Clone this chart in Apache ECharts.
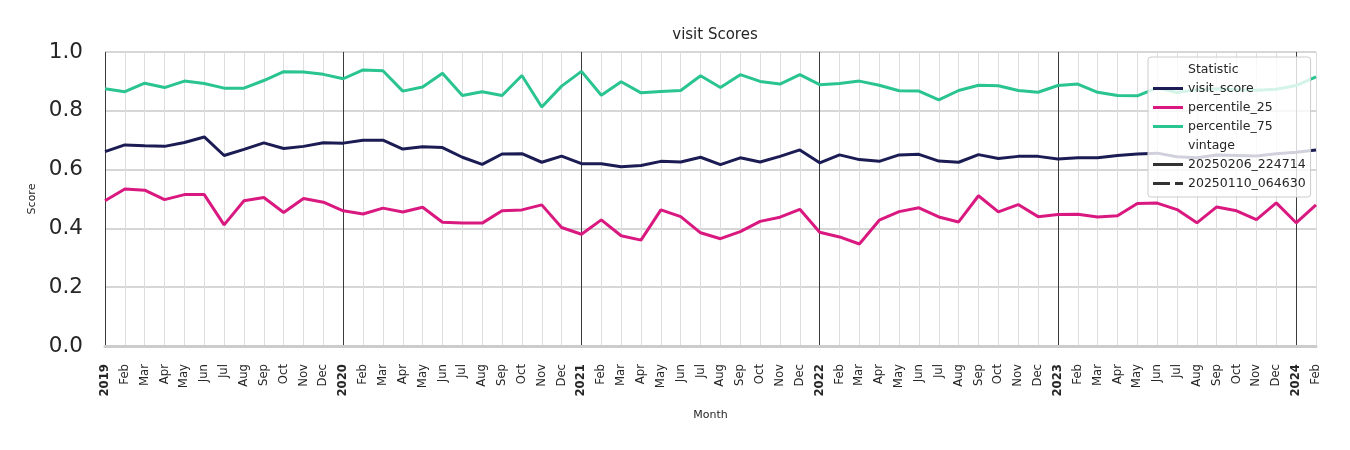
<!DOCTYPE html>
<html>
<head>
<meta charset="utf-8">
<script src="https://cdn.jsdelivr.net/npm/echarts@6/dist/echarts.min.js"></script>
<style>
html,body{margin:0;padding:0;background:#fff;}
#chart{width:1350px;height:450px;}
</style>
</head>
<body>
<div id="chart"></div>
<script>
const categories = [
 '2019-01','2019-02','2019-03','2019-04','2019-05','2019-06','2019-07','2019-08','2019-09','2019-10','2019-11','2019-12',
 '2020-01','2020-02','2020-03','2020-04','2020-05','2020-06','2020-07','2020-08','2020-09','2020-10','2020-11','2020-12',
 '2021-01','2021-02','2021-03','2021-04','2021-05','2021-06','2021-07','2021-08','2021-09','2021-10','2021-11','2021-12',
 '2022-01','2022-02','2022-03','2022-04','2022-05','2022-06','2022-07','2022-08','2022-09','2022-10','2022-11','2022-12',
 '2023-01','2023-02','2023-03','2023-04','2023-05','2023-06','2023-07','2023-08','2023-09','2023-10','2023-11','2023-12',
 '2024-01','2024-02'
];
const monthNames = ['Jan','Feb','Mar','Apr','May','Jun','Jul','Aug','Sep','Oct','Nov','Dec'];
const yTicks = [0.0, 0.2, 0.4, 0.6, 0.8, 1.0];

const visitScore = [
 0.661,0.684,0.681,0.679,0.692,0.711,0.648,0.669,0.691,0.672,0.679,0.691,
 0.690,0.700,0.700,0.670,0.678,0.675,0.642,0.618,0.653,0.654,0.625,0.646,
 0.620,0.620,0.610,0.614,0.628,0.626,0.642,0.617,0.640,0.626,0.645,0.667,
 0.623,0.650,0.634,0.628,0.650,0.652,0.629,0.625,0.651,0.638,0.645,0.645,
 0.636,0.640,0.640,0.648,0.653,0.656,0.644,0.640,0.650,0.648,0.646,0.654,
 0.659,0.667
];
const percentile25 = [
 0.494,0.534,0.530,0.498,0.515,0.515,0.412,0.494,0.505,0.454,0.502,0.489,
 0.460,0.449,0.469,0.456,0.472,0.421,0.418,0.418,0.460,0.463,0.480,0.403,
 0.380,0.429,0.375,0.360,0.463,0.440,0.385,0.365,0.389,0.424,0.438,0.465,
 0.387,0.371,0.347,0.428,0.457,0.470,0.439,0.422,0.511,0.456,0.481,0.440,
 0.447,0.448,0.439,0.443,0.485,0.486,0.464,0.419,0.473,0.460,0.430,0.487,
 0.419,0.480
];
const percentile75 = [
 0.875,0.865,0.894,0.879,0.901,0.893,0.877,0.877,0.903,0.933,0.932,0.924,
 0.909,0.939,0.936,0.867,0.881,0.928,0.852,0.865,0.852,0.920,0.813,0.884,
 0.934,0.853,0.899,0.861,0.866,0.869,0.919,0.879,0.923,0.900,0.891,0.923,
 0.889,0.893,0.901,0.887,0.868,0.867,0.837,0.869,0.887,0.885,0.869,0.863,
 0.886,0.891,0.863,0.852,0.851,0.878,0.862,0.872,0.875,0.872,0.870,0.873,
 0.886,0.915
];

const FONT = 'DejaVu Sans';
const NAVY = '#1c1c55', MAGENTA = '#d9197f', GREEN = '#29c48f';

const splitColors = ['#3a3a3a'];
for (let k = 1; k < 12; k++) splitColors.push('#dddddd');

const solidIcon = 'path://M0,0h30v3h-30z';
const dashIcon = 'path://M0,0h17v3h-17z M22,0h8v3h-8z';

function lineSeries(name, data, color) {
  return {
    name: name, type: 'line', data: data, showSymbol: false, symbol: 'none',
    lineStyle: { color: color, width: 3 }, itemStyle: { color: color },
    emphasis: { disabled: true }, z: 3
  };
}
function dummy(name, color, type) {
  return {
    name: name, type: 'line', data: [], symbol: 'none',
    lineStyle: { color: color, width: 3, type: type || 'solid' }, itemStyle: { color: color }
  };
}

const chart = echarts.init(document.getElementById('chart'), null, { renderer: 'canvas' });
chart.setOption({
  animation: false,
  backgroundColor: '#ffffff',
  title: {
    text: 'visit Scores', left: 710, top: 23, textAlign: 'center',
    textStyle: { fontFamily: FONT, fontSize: 15, fontWeight: 'normal', color: '#262626' }
  },
  grid: { left: 105, right: 34, top: 52, bottom: 104, containLabel: false },
  legend: {
    orient: 'vertical', left: 1148, top: 57,
    padding: [6, 5, 7, 5], itemWidth: 30, itemHeight: 14, itemGap: 6,
    backgroundColor: 'rgba(255,255,255,0.8)', borderColor: '#cccccc', borderWidth: 1, borderRadius: 3,
    textStyle: { fontFamily: FONT, fontSize: 12.5, color: '#262626' },
    selectedMode: false,
    data: [
      { name: 'Statistic', icon: solidIcon },
      { name: 'visit_score', icon: solidIcon },
      { name: 'percentile_25', icon: solidIcon },
      { name: 'percentile_75', icon: solidIcon },
      { name: 'vintage', icon: solidIcon },
      { name: '20250206_224714', icon: solidIcon },
      { name: '20250110_064630', icon: dashIcon }
    ],
    z: 10
  },
  xAxis: {
    type: 'category', data: categories, boundaryGap: false,
    name: 'Month', nameLocation: 'middle', nameGap: 64,
    nameTextStyle: { fontFamily: FONT, fontSize: 11, color: '#262626' },
    axisLine: { show: true, lineStyle: { color: '#cccccc', width: 3 } },
    axisTick: { show: false },
    axisLabel: {
      interval: 0, rotate: 90, margin: 18,
      fontFamily: FONT, fontSize: 11.7, color: '#262626',
      formatter: function (v) {
        const parts = v.split('-');
        const m = parseInt(parts[1], 10);
        return m === 1 ? '{y|' + parts[0] + '}' : monthNames[m - 1];
      },
      rich: { y: { fontFamily: FONT, fontSize: 11.7, fontWeight: 'bold', color: '#262626' } }
    },
    splitLine: { show: true, interval: 0, lineStyle: { color: splitColors, width: 1 } }
  },
  yAxis: {
    type: 'value', min: yTicks[0], max: yTicks[yTicks.length - 1], interval: 0.2,
    name: 'Score', nameLocation: 'middle', nameGap: 66, nameRotate: 90,
    nameTextStyle: { fontFamily: FONT, fontSize: 11, color: '#262626' },
    axisLine: { show: false }, axisTick: { show: false },
    axisLabel: {
      margin: 22, fontFamily: FONT, fontSize: 21.5, color: '#262626',
      formatter: function (v) { return v.toFixed(1); }
    },
    splitLine: { show: true, lineStyle: { color: '#c8c8c8', width: 1.5 } }
  },
  series: [
    lineSeries('visit_score', visitScore, NAVY),
    lineSeries('percentile_25', percentile25, MAGENTA),
    lineSeries('percentile_75', percentile75, GREEN),
    dummy('Statistic', 'rgba(0,0,0,0)'),
    dummy('vintage', 'rgba(0,0,0,0)'),
    dummy('20250206_224714', '#333333'),
    dummy('20250110_064630', '#333333', 'dashed')
  ]
});
</script>
</body>
</html>
